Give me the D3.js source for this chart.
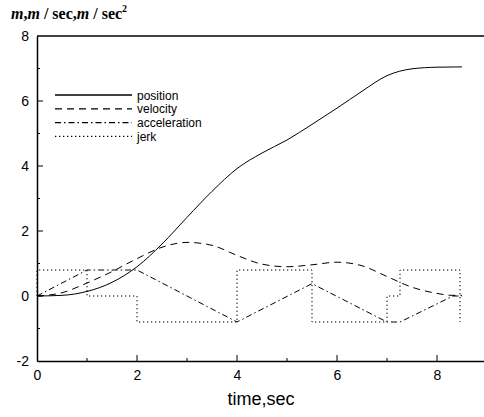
<!DOCTYPE html>
<html>
<head>
<meta charset="utf-8">
<script src="https://cdn.jsdelivr.net/npm/d3@7"></script>
<style>
  body { margin: 0; background: #fff; }
  svg { display: block; }
  text { font-family: "Liberation Sans", Arial, sans-serif; }
</style>
</head>
<body>
<svg id="canvas" width="484" height="417"></svg>
<script>
// values
let posT = [0, 0.5, 1, 1.5, 2, 2.5, 3, 3.5, 4, 4.5, 5, 5.5, 6, 6.5, 7, 7.5, 8, 8.5];
let posV = [0, 0.02, 0.14, 0.42, 0.9, 1.6, 2.42, 3.22, 3.92, 4.4, 4.8, 5.28, 5.78, 6.3, 6.78, 6.99, 7.04, 7.05];

let velT = [0, 0.5, 1, 1.5, 2, 2.5, 3, 3.5, 4, 4.5, 5, 5.5, 6, 6.5, 7, 7.5, 8, 8.3, 8.5];
let velV = [0, 0.1, 0.4, 0.75, 1.15, 1.5, 1.65, 1.56, 1.25, 0.98, 0.9, 0.96, 1.04, 0.93, 0.6, 0.27, 0.08, 0.02, 0.02];

let accT = [0, 1, 2, 4, 5.5, 7, 7.26, 8.32, 8.5];
let accV = [0, 0.8, 0.8, -0.8, 0.38, -0.8, -0.8, 0, 0];

let jerkT = [0, 0, 1, 1, 2, 2, 4, 4, 5.5, 5.5, 7, 7, 7.26, 7.26, 8.46, 8.46];
let jerkV = [0, 0.8, 0.8, 0, 0, -0.8, -0.8, 0.8, 0.8, -0.8, -0.8, 0, 0, 0.8, 0.8, -0.8];

let xTicks = [0, 2, 4, 6, 8];
let yTicks = [-2, 0, 2, 4, 6, 8];
let legendNames = ["position", "velocity", "acceleration", "jerk"];

let canvas = d3.select("#canvas");

let plotLeft = 37;
let plotTop = 36;
let plotBottom = 361;

let xScale = d3.scaleLinear().domain([0, 9]).range([plotLeft, plotLeft + 450]);
let yScale = d3.scaleLinear().domain([-2, 8]).range([plotBottom, plotTop]);

let zip = (ts, vs) => ts.map((t, i) => [t, vs[i]]);

let series = [
  { data: zip(posT, posV), dash: null, curve: d3.curveMonotoneX },
  { data: zip(velT, velV), dash: "7,5", curve: d3.curveMonotoneX },
  { data: zip(accT, accV), dash: "6,3,1.5,3", curve: d3.curveLinear },
  { data: zip(jerkT, jerkV), dash: "1.3,2.7", curve: d3.curveLinear }
];

// frame
canvas.append("line")
  .attr("x1", plotLeft).attr("x2", 484)
  .attr("y1", plotTop).attr("y2", plotTop)
  .attr("stroke", "#000").attr("stroke-width", 1.3);

let xAxis = canvas.append("g")
  .attr("transform", "translate(0," + plotBottom + ")")
  .call(d3.axisBottom(xScale).tickValues(xTicks).tickSize(0).tickPadding(9).tickFormat((d) => String(d)));
xAxis.select(".domain").attr("stroke-width", 1.5);
xAxis.selectAll("text").attr("font-size", 14).attr("fill", "#000");

let yAxis = canvas.append("g")
  .attr("transform", "translate(" + plotLeft + ",0)")
  .call(d3.axisLeft(yScale).tickValues(yTicks).tickSize(0).tickPadding(8).tickFormat((d) => String(d)));
yAxis.select(".domain").attr("stroke-width", 1.5);
yAxis.selectAll("text").attr("font-size", 14).attr("fill", "#000");

// inward ticks
canvas.selectAll(".xtick")
  .data(d3.range(1, 9))
  .enter()
  .append("line")
  .attr("x1", (d) => xScale(d)).attr("x2", (d) => xScale(d))
  .attr("y1", plotBottom).attr("y2", (d) => plotBottom - (d % 2 === 0 ? 6 : 3))
  .attr("stroke", "#000");

canvas.selectAll(".ytick")
  .data(d3.range(-1, 8))
  .enter()
  .append("line")
  .attr("x1", plotLeft).attr("x2", (d) => plotLeft + (d % 2 === 0 ? 6 : 3))
  .attr("y1", (d) => yScale(d)).attr("y2", (d) => yScale(d))
  .attr("stroke", "#000");

// curves
series.forEach((s) => {
  canvas.append("path")
    .attr("d", d3.line().x((d) => xScale(d[0])).y((d) => yScale(d[1])).curve(s.curve)(s.data))
    .attr("fill", "none")
    .attr("stroke", "#000")
    .attr("stroke-width", 1)
    .attr("stroke-dasharray", s.dash);
});

// legend
let legend = canvas.append("g");
legendNames.forEach((name, i) => {
  let y = 95 + i * 13.8;
  legend.append("line")
    .attr("x1", 55).attr("x2", 132)
    .attr("y1", y).attr("y2", y)
    .attr("stroke", "#000")
    .attr("stroke-width", i === 0 ? 1.5 : 1.2)
    .attr("stroke-dasharray", series[i].dash);
  legend.append("text")
    .attr("x", 137).attr("y", y + 4.5)
    .attr("font-size", 12)
    .text(name);
});

// axis titles
canvas.append("text")
  .attr("x", 261).attr("y", 405)
  .attr("text-anchor", "middle")
  .attr("font-size", 18)
  .text("time,sec");

let yTitle = canvas.append("text")
  .attr("x", 11).attr("y", 19)
  .attr("font-size", 16)
  .attr("font-weight", "bold")
  .style("font-family", "'Liberation Serif', 'Times New Roman', serif");
yTitle.append("tspan").attr("font-style", "italic").text("m");
yTitle.append("tspan").text(",");
yTitle.append("tspan").attr("font-style", "italic").text("m");
yTitle.append("tspan").text(" / sec,");
yTitle.append("tspan").attr("font-style", "italic").text("m");
yTitle.append("tspan").text(" / sec");
yTitle.append("tspan").attr("font-size", 10).attr("dy", -7).text("2");
</script>
</body>
</html>
